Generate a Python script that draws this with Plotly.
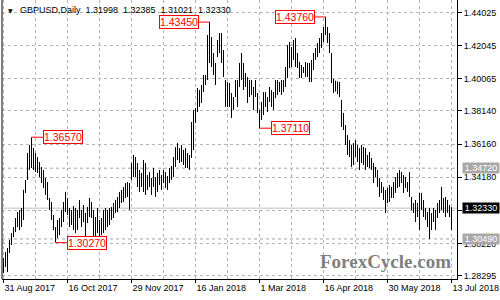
import plotly.graph_objects as go

# ---------------- data ----------------
symbol = "GBPUSD,Daily"
last_ohlc = [1.31998, 1.32385, 1.31021, 1.32330]
bid_price = 1.32330
level_prices = [1.34720, 1.30490]

high = [
    1.2935, 1.2971, 1.2995, 1.3043, 1.3084, 1.3120, 1.3174, 1.3210, 1.3222, 1.3234,
    1.3342, 1.3401, 1.3563, 1.3610, 1.3657, 1.3592, 1.3563, 1.3539, 1.3509, 1.3479,
    1.3461, 1.3413, 1.3389, 1.3294, 1.3270, 1.3192, 1.3120, 1.3162, 1.3174, 1.3222,
    1.3270, 1.3330, 1.3294, 1.3234, 1.3222, 1.3246, 1.3234, 1.3222, 1.3282, 1.3222,
    1.3252, 1.3204, 1.3240, 1.3294, 1.3270, 1.3222, 1.3180, 1.3234, 1.3162, 1.3174,
    1.3222, 1.3234, 1.3222, 1.3234, 1.3240, 1.3264, 1.3282, 1.3300, 1.3330, 1.3342,
    1.3360, 1.3383, 1.3389, 1.3383, 1.3503, 1.3551, 1.3539, 1.3503, 1.3461, 1.3443,
    1.3521, 1.3503, 1.3431, 1.3449, 1.3413, 1.3473, 1.3419, 1.3443, 1.3461, 1.3431,
    1.3461, 1.3449, 1.3425, 1.3473, 1.3485, 1.3539, 1.3598, 1.3622, 1.3592, 1.3610,
    1.3581, 1.3592, 1.3563, 1.3551, 1.3748, 1.3820, 1.3832, 1.3951, 1.3939, 1.3969,
    1.4029, 1.4029, 1.4268, 1.4345, 1.4256, 1.4160, 1.4101, 1.4238, 1.4280, 1.4280,
    1.4178, 1.3999, 1.3987, 1.3981, 1.3921, 1.3897, 1.3999, 1.3999, 1.4101, 1.4160,
    1.4101, 1.4041, 1.4017, 1.3999, 1.3999, 1.3957, 1.3999, 1.3921, 1.3820, 1.3868,
    1.3927, 1.3927, 1.3897, 1.3957, 1.3939, 1.3927, 1.3999, 1.3999, 1.3987, 1.3999,
    1.3999, 1.4077, 1.4208, 1.4226, 1.4196, 1.4238, 1.4250, 1.4160, 1.4107, 1.4089,
    1.4077, 1.4107, 1.4101, 1.4101, 1.4119, 1.4160, 1.4190, 1.4220, 1.4250, 1.4280,
    1.4316, 1.4376, 1.4316, 1.4280, 1.4160, 1.4005, 1.3995, 1.3990, 1.3987, 1.3880,
    1.3802, 1.3730, 1.3670, 1.3640, 1.3610, 1.3622, 1.3640, 1.3610, 1.3592, 1.3610,
    1.3598, 1.3592, 1.3551, 1.3569, 1.3533, 1.3503, 1.3479, 1.3461, 1.3413, 1.3389,
    1.3360, 1.3342, 1.3354, 1.3371, 1.3360, 1.3389, 1.3419, 1.3443, 1.3461, 1.3449,
    1.3431, 1.3419, 1.3389, 1.3449, 1.3300, 1.3264, 1.3282, 1.3264, 1.3324, 1.3324,
    1.3282, 1.3234, 1.3210, 1.3234, 1.3204, 1.3234, 1.3222, 1.3264, 1.3282, 1.3360,
    1.3294, 1.3300, 1.3282, 1.3252, 1.32385,
]

low = [
    1.2845, 1.2881, 1.2851, 1.2965, 1.3013, 1.3060, 1.3090, 1.3120, 1.3102, 1.3120,
    1.3162, 1.3324, 1.3401, 1.3461, 1.3473, 1.3461, 1.3449, 1.3443, 1.3419, 1.3383,
    1.3354, 1.3312, 1.3282, 1.3222, 1.3162, 1.3102, 1.3027, 1.3054, 1.3072, 1.3120,
    1.3150, 1.3210, 1.3192, 1.3120, 1.3132, 1.3102, 1.3084, 1.3102, 1.3174, 1.3120,
    1.3150, 1.3060, 1.3144, 1.3180, 1.3174, 1.3060, 1.3060, 1.3084, 1.3031, 1.3072,
    1.3084, 1.3102, 1.3120, 1.3132, 1.3162, 1.3174, 1.3204, 1.3210, 1.3234, 1.3264,
    1.3270, 1.3294, 1.3300, 1.3222, 1.3401, 1.3419, 1.3419, 1.3360, 1.3330, 1.3360,
    1.3330, 1.3312, 1.3342, 1.3360, 1.3312, 1.3360, 1.3300, 1.3330, 1.3371, 1.3342,
    1.3383, 1.3354, 1.3342, 1.3383, 1.3401, 1.3419, 1.3479, 1.3521, 1.3503, 1.3509,
    1.3491, 1.3473, 1.3473, 1.3461, 1.3533, 1.3581, 1.3742, 1.3808, 1.3838, 1.3862,
    1.3927, 1.3969, 1.3999, 1.4101, 1.4077, 1.4029, 1.3969, 1.4136, 1.4160, 1.4101,
    1.4017, 1.3838, 1.3838, 1.3838, 1.3772, 1.3820, 1.3897, 1.3838, 1.3957, 1.3999,
    1.3939, 1.3957, 1.3862, 1.3897, 1.3909, 1.3820, 1.3897, 1.3802, 1.3711, 1.3760,
    1.3790, 1.3838, 1.3808, 1.3868, 1.3838, 1.3820, 1.3891, 1.3909, 1.3927, 1.3909,
    1.3927, 1.3957, 1.4011, 1.4071, 1.4077, 1.4119, 1.4077, 1.4071, 1.4011, 1.4011,
    1.4041, 1.4017, 1.4017, 1.3987, 1.3987, 1.4059, 1.4119, 1.4136, 1.4160, 1.4190,
    1.4226, 1.4268, 1.4220, 1.4160, 1.3981, 1.3921, 1.3930, 1.3915, 1.3897, 1.3718,
    1.3700, 1.3610, 1.3551, 1.3539, 1.3479, 1.3491, 1.3539, 1.3509, 1.3461, 1.3503,
    1.3491, 1.3461, 1.3479, 1.3473, 1.3461, 1.3383, 1.3419, 1.3360, 1.3300, 1.3324,
    1.3282, 1.3204, 1.3264, 1.3270, 1.3294, 1.3294, 1.3324, 1.3354, 1.3360, 1.3383,
    1.3324, 1.3354, 1.3330, 1.3300, 1.3222, 1.3204, 1.3150, 1.3180, 1.3102, 1.3222,
    1.3180, 1.3162, 1.3120, 1.3049, 1.3102, 1.3150, 1.3102, 1.3174, 1.3204, 1.3222,
    1.3204, 1.3180, 1.3204, 1.3180, 1.31021,
]

date_labels = ["31 Aug 2017", "16 Oct 2017", "29 Nov 2017", "16 Jan 2018",
               "1 Mar 2018", "16 Apr 2018", "30 May 2018", "13 Jul 2018"]
date_label_bars = [0, 32, 64, 96, 128, 160, 192, 224]
price_ticks = [1.44025, 1.42045, 1.40065, 1.38140, 1.36160,
               1.34180, 1.32200, 1.30220, 1.28295]

# swing labels: (bar index, "high"/"low")
swing_points = [(14, "high"), (26, "low"), (103, "high"), (128, "low"), (161, "high")]

# ---------------- figure ----------------
FONT = "Liberation Sans, Arial, sans-serif"
GRID = "#b4b4b4"

xs, ys = [], []
for i, (h, l) in enumerate(zip(high, low)):
    xs += [i, i, None]
    ys += [l, h, None]

fig = go.Figure()
fig.add_trace(go.Scatter(x=xs, y=ys, mode="lines",
                         line=dict(color="black", width=1),
                         hoverinfo="skip", showlegend=False))

shapes = []
# left border
shapes.append(dict(type="line", xref="paper", yref="paper", x0=0, x1=0, y0=0, y1=1,
                   line=dict(color="black", width=1)))
# support / resistance levels
for lv in level_prices:
    shapes.append(dict(type="line", xref="paper", yref="y", x0=0, x1=1, y0=lv, y1=lv,
                       line=dict(color="#a0a0a0", width=1, dash="3px,3px"), layer="below"))
# bid line
shapes.append(dict(type="line", xref="paper", yref="y", x0=0, x1=1, y0=bid_price, y1=bid_price,
                   line=dict(color="#c0c0c0", width=1), layer="below"))

annotations = []
for idx, kind in swing_points:
    val = high[idx] if kind == "high" else low[idx]
    left = idx > 90 and kind == "high"
    annotations.append(dict(
        x=idx, y=val, xref="x", yref="y", text=f"{val:.5f}",
        showarrow=True, arrowhead=0, arrowwidth=1, arrowcolor="#ff0000",
        ax=-31 if left else 31, ay=0, standoff=0, startstandoff=0,
        font=dict(family=FONT, size=10.5, color="#ff0000"),
        bgcolor="white", bordercolor="#ff0000", borderwidth=1, borderpad=0,
    ))

for lv in level_prices:
    annotations.append(dict(
        x=1, xref="paper", y=lv, yref="y", xanchor="left", yanchor="middle",
        xshift=5, text=f"{lv:.5f}", showarrow=False,
        font=dict(family=FONT, size=9, color="white"),
        bgcolor="#a8a8a8", borderpad=0, width=36,
    ))
annotations.append(dict(
    x=1, xref="paper", y=bid_price, yref="y", xanchor="left", yanchor="middle",
    xshift=5, text=f"{bid_price:.5f}", showarrow=False,
    font=dict(family=FONT, size=9, color="white"),
    bgcolor="black", borderpad=0, width=36,
))

# header
annotations.append(dict(
    x=0, y=1, xref="paper", yref="paper", xanchor="left", yanchor="middle",
    xshift=4, yshift=-10, text="▼", showarrow=False,
    font=dict(family="DejaVu Sans", size=6, color="black"),
))
annotations.append(dict(
    x=0, y=1, xref="paper", yref="paper", xanchor="left", yanchor="middle",
    xshift=16, yshift=-10,
    text=symbol + "  " + "  ".join(f"{v:.5f}" for v in last_ohlc),
    showarrow=False, font=dict(family=FONT, size=9, color="black"),
))
# watermark
annotations.append(dict(
    x=1, y=0, xref="paper", yref="paper", xanchor="right", yanchor="middle",
    xshift=-4, yshift=18, text="ForexCycle.com", showarrow=False,
    font=dict(family="Liberation Serif, Times New Roman, serif", size=19,
              color="#7f7f7f", weight="bold"),
))

fig.update_layout(
    width=500, height=300,
    margin=dict(l=2, r=43, t=0, b=21),
    paper_bgcolor="white", plot_bgcolor="white",
    showlegend=False,
    shapes=shapes, annotations=annotations,
    xaxis=dict(
        range=[-0.75, 226.75],
        tickmode="array", tickvals=date_label_bars, ticktext=date_labels,
        ticks="outside", ticklen=3, tickcolor="black",
        ticklabelposition="outside right",
        tickfont=dict(family=FONT, size=9, color="black"),
        showgrid=True, gridcolor=GRID, griddash="3px,3px", gridwidth=1,
        minor=dict(tickvals=list(range(16, 225, 32)), showgrid=True,
                   gridcolor=GRID, griddash="3px,3px", ticklen=0),
        showline=True, linecolor="black", linewidth=1,
        zeroline=False, fixedrange=True,
    ),
    yaxis=dict(
        side="right",
        range=[1.28096, 1.44772],
        tickmode="array", tickvals=price_ticks,
        ticktext=[f"{v:.5f}" for v in price_ticks],
        ticks="outside", ticklen=4, tickcolor="black",
        tickfont=dict(family=FONT, size=9, color="black"),
        showgrid=True, gridcolor=GRID, griddash="3px,3px", gridwidth=1,
        showline=True, linecolor="black", linewidth=1,
        zeroline=False, fixedrange=True,
    ),
)

fig.write_html("out.html")
